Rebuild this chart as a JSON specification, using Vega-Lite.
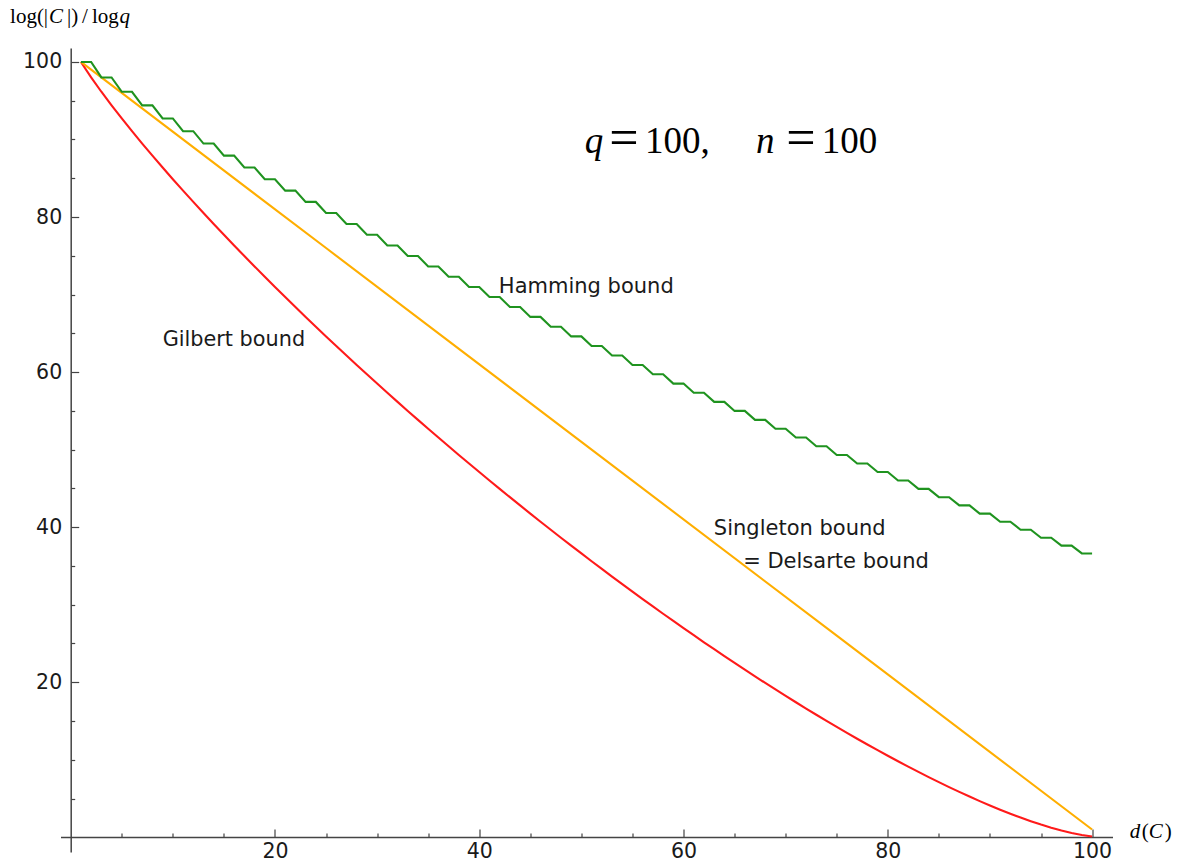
{
  "$schema": "https://vega.github.io/schema/vega-lite/v6.json",
  "width": 1052,
  "height": 804,
  "autosize": "none",
  "padding": {"left": 60.5, "top": 48, "right": 71.5, "bottom": 13},
  "background": "white",
  "config": {"view": {"stroke": null}, "axis": {"grid": false}},
  "datasets": {
    "singleton": [
      {"d": 1, "v": 100}, {"d": 25, "v": 76}, {"d": 50, "v": 51}, {"d": 75, "v": 26}, {"d": 100, "v": 1}
    ],
    "hamming": [
      {"d": 1, "v": 100}, {"d": 2, "v": 100}, {"d": 3, "v": 98.002}, {"d": 4, "v": 98.002},
      {"d": 5, "v": 96.157}, {"d": 6, "v": 96.157}, {"d": 7, "v": 94.402}, {"d": 8, "v": 94.402},
      {"d": 9, "v": 92.712}, {"d": 10, "v": 92.712}, {"d": 11, "v": 91.072}, {"d": 12, "v": 91.072},
      {"d": 13, "v": 89.475}, {"d": 14, "v": 89.475}, {"d": 15, "v": 87.913}, {"d": 16, "v": 87.913},
      {"d": 17, "v": 86.382}, {"d": 18, "v": 86.382}, {"d": 19, "v": 84.88}, {"d": 20, "v": 84.88},
      {"d": 21, "v": 83.402}, {"d": 22, "v": 83.402}, {"d": 23, "v": 81.948}, {"d": 24, "v": 81.948},
      {"d": 25, "v": 80.515}, {"d": 26, "v": 80.515}, {"d": 27, "v": 79.102}, {"d": 28, "v": 79.102},
      {"d": 29, "v": 77.708}, {"d": 30, "v": 77.708}, {"d": 31, "v": 76.331}, {"d": 32, "v": 76.331},
      {"d": 33, "v": 74.97}, {"d": 34, "v": 74.97}, {"d": 35, "v": 73.625}, {"d": 36, "v": 73.625},
      {"d": 37, "v": 72.295}, {"d": 38, "v": 72.295}, {"d": 39, "v": 70.98}, {"d": 40, "v": 70.98},
      {"d": 41, "v": 69.679}, {"d": 42, "v": 69.679}, {"d": 43, "v": 68.39}, {"d": 44, "v": 68.39},
      {"d": 45, "v": 67.115}, {"d": 46, "v": 67.115}, {"d": 47, "v": 65.852}, {"d": 48, "v": 65.852},
      {"d": 49, "v": 64.601}, {"d": 50, "v": 64.601}, {"d": 51, "v": 63.361}, {"d": 52, "v": 63.361},
      {"d": 53, "v": 62.134}, {"d": 54, "v": 62.134}, {"d": 55, "v": 60.917}, {"d": 56, "v": 60.917},
      {"d": 57, "v": 59.711}, {"d": 58, "v": 59.711}, {"d": 59, "v": 58.516}, {"d": 60, "v": 58.516},
      {"d": 61, "v": 57.331}, {"d": 62, "v": 57.331}, {"d": 63, "v": 56.156}, {"d": 64, "v": 56.156},
      {"d": 65, "v": 54.991}, {"d": 66, "v": 54.991}, {"d": 67, "v": 53.836}, {"d": 68, "v": 53.836},
      {"d": 69, "v": 52.691}, {"d": 70, "v": 52.691}, {"d": 71, "v": 51.556}, {"d": 72, "v": 51.556},
      {"d": 73, "v": 50.429}, {"d": 74, "v": 50.429}, {"d": 75, "v": 49.312}, {"d": 76, "v": 49.312},
      {"d": 77, "v": 48.205}, {"d": 78, "v": 48.205}, {"d": 79, "v": 47.106}, {"d": 80, "v": 47.106},
      {"d": 81, "v": 46.017}, {"d": 82, "v": 46.017}, {"d": 83, "v": 44.936}, {"d": 84, "v": 44.936},
      {"d": 85, "v": 43.865}, {"d": 86, "v": 43.865}, {"d": 87, "v": 42.802}, {"d": 88, "v": 42.802},
      {"d": 89, "v": 41.748}, {"d": 90, "v": 41.748}, {"d": 91, "v": 40.702}, {"d": 92, "v": 40.702},
      {"d": 93, "v": 39.666}, {"d": 94, "v": 39.666}, {"d": 95, "v": 38.637}, {"d": 96, "v": 38.637},
      {"d": 97, "v": 37.618}, {"d": 98, "v": 37.618}, {"d": 99, "v": 36.607}, {"d": 100, "v": 36.607}
    ],
    "gilbert": [
      {"d": 1, "v": 100}, {"d": 2, "v": 98.002}, {"d": 3, "v": 96.157}, {"d": 4, "v": 94.402},
      {"d": 5, "v": 92.712}, {"d": 6, "v": 91.072}, {"d": 7, "v": 89.475}, {"d": 8, "v": 87.913},
      {"d": 9, "v": 86.382}, {"d": 10, "v": 84.88}, {"d": 11, "v": 83.402}, {"d": 12, "v": 81.948},
      {"d": 13, "v": 80.515}, {"d": 14, "v": 79.102}, {"d": 15, "v": 77.708}, {"d": 16, "v": 76.331},
      {"d": 17, "v": 74.97}, {"d": 18, "v": 73.625}, {"d": 19, "v": 72.295}, {"d": 20, "v": 70.98},
      {"d": 21, "v": 69.679}, {"d": 22, "v": 68.39}, {"d": 23, "v": 67.115}, {"d": 24, "v": 65.852},
      {"d": 25, "v": 64.601}, {"d": 26, "v": 63.361}, {"d": 27, "v": 62.134}, {"d": 28, "v": 60.917},
      {"d": 29, "v": 59.711}, {"d": 30, "v": 58.516}, {"d": 31, "v": 57.331}, {"d": 32, "v": 56.156},
      {"d": 33, "v": 54.991}, {"d": 34, "v": 53.836}, {"d": 35, "v": 52.691}, {"d": 36, "v": 51.556},
      {"d": 37, "v": 50.429}, {"d": 38, "v": 49.312}, {"d": 39, "v": 48.205}, {"d": 40, "v": 47.106},
      {"d": 41, "v": 46.017}, {"d": 42, "v": 44.936}, {"d": 43, "v": 43.865}, {"d": 44, "v": 42.802},
      {"d": 45, "v": 41.748}, {"d": 46, "v": 40.702}, {"d": 47, "v": 39.666}, {"d": 48, "v": 38.637},
      {"d": 49, "v": 37.618}, {"d": 50, "v": 36.607}, {"d": 51, "v": 35.605}, {"d": 52, "v": 34.611},
      {"d": 53, "v": 33.626}, {"d": 54, "v": 32.65}, {"d": 55, "v": 31.682}, {"d": 56, "v": 30.723},
      {"d": 57, "v": 29.773}, {"d": 58, "v": 28.831}, {"d": 59, "v": 27.898}, {"d": 60, "v": 26.974},
      {"d": 61, "v": 26.059}, {"d": 62, "v": 25.152}, {"d": 63, "v": 24.255}, {"d": 64, "v": 23.367},
      {"d": 65, "v": 22.488}, {"d": 66, "v": 21.618}, {"d": 67, "v": 20.758}, {"d": 68, "v": 19.907},
      {"d": 69, "v": 19.066}, {"d": 70, "v": 18.235}, {"d": 71, "v": 17.414}, {"d": 72, "v": 16.603},
      {"d": 73, "v": 15.802}, {"d": 74, "v": 15.012}, {"d": 75, "v": 14.233}, {"d": 76, "v": 13.465},
      {"d": 77, "v": 12.708}, {"d": 78, "v": 11.963}, {"d": 79, "v": 11.23}, {"d": 80, "v": 10.509},
      {"d": 81, "v": 9.802}, {"d": 82, "v": 9.107}, {"d": 83, "v": 8.426}, {"d": 84, "v": 7.759},
      {"d": 85, "v": 7.108}, {"d": 86, "v": 6.472}, {"d": 87, "v": 5.852}, {"d": 88, "v": 5.25},
      {"d": 89, "v": 4.666}, {"d": 90, "v": 4.102}, {"d": 91, "v": 3.559}, {"d": 92, "v": 3.038},
      {"d": 93, "v": 2.543}, {"d": 94, "v": 2.074}, {"d": 95, "v": 1.636}, {"d": 96, "v": 1.232},
      {"d": 97, "v": 0.868}, {"d": 98, "v": 0.55}, {"d": 99, "v": 0.289}, {"d": 100, "v": 0.099}
    ]
  },
  "layer": [
    {
      "data": {"name": "gilbert"},
      "mark": {"type": "line", "color": "#ff1a1a", "strokeWidth": 2.1, "clip": false},
      "encoding": {
        "x": {
          "field": "d", "type": "quantitative",
          "scale": {"domain": [-1, 102], "nice": false, "zero": false},
          "axis": {
            "orient": "bottom", "offset": -15, "title": null,
            "values": [5, 10, 15, 20, 25, 30, 35, 40, 45, 50, 55, 60, 65, 70, 75, 80, 85, 90, 95, 100],
            "tickSize": {"condition": {"test": "datum.value % 20 === 0", "value": -8}, "value": -4},
            "labelExpr": "datum.value % 20 === 0 ? datum.label : ''",
            "domainColor": "#444", "domainWidth": 1.5, "tickColor": "#444", "tickWidth": 1.2,
            "labelFont": "DejaVu Sans", "labelFontSize": 20.5, "labelColor": "#1a1a1a",
            "labelPadding": 12, "labelFlush": false, "labelOverlap": false
          }
        },
        "y": {
          "field": "v", "type": "quantitative",
          "scale": {"domain": [-1.9, 101.8], "nice": false, "zero": false},
          "axis": {
            "orient": "left", "offset": -10.2, "title": null,
            "values": [5, 10, 15, 20, 25, 30, 35, 40, 45, 50, 55, 60, 65, 70, 75, 80, 85, 90, 95, 100],
            "tickSize": {"condition": {"test": "datum.value % 20 === 0", "value": -8}, "value": -4},
            "labelExpr": "datum.value % 20 === 0 ? datum.label : ''",
            "domainColor": "#444", "domainWidth": 1.5, "tickColor": "#444", "tickWidth": 1.2,
            "labelFont": "DejaVu Sans", "labelFontSize": 20.5, "labelColor": "#1a1a1a",
            "labelPadding": 17, "labelFlush": false, "labelOverlap": false
          }
        }
      }
    },
    {
      "data": {"name": "singleton"},
      "mark": {"type": "line", "color": "#ffae00", "strokeWidth": 2.1},
      "encoding": {
        "x": {"field": "d", "type": "quantitative"},
        "y": {"field": "v", "type": "quantitative"}
      }
    },
    {
      "data": {"name": "hamming"},
      "mark": {"type": "line", "color": "#1f931f", "strokeWidth": 2.1},
      "encoding": {
        "x": {"field": "d", "type": "quantitative"},
        "y": {"field": "v", "type": "quantitative"}
      }
    },
    {
      "data": {"values": [{"label": "Hamming bound"}]},
      "mark": {"type": "text", "align": "left", "baseline": "alphabetic", "font": "DejaVu Sans", "fontSize": 21, "color": "#1a1a1a"},
      "encoding": {"x": {"datum": 41.92}, "y": {"datum": 70.15}, "text": {"field": "label"}}
    },
    {
      "data": {"values": [{"label": "Gilbert bound"}]},
      "mark": {"type": "text", "align": "left", "baseline": "alphabetic", "font": "DejaVu Sans", "fontSize": 20.8, "color": "#1a1a1a"},
      "encoding": {"x": {"datum": 9.0}, "y": {"datum": 63.35}, "text": {"field": "label"}}
    },
    {
      "data": {"values": [{"label": "Singleton bound"}]},
      "mark": {"type": "text", "align": "left", "baseline": "alphabetic", "font": "DejaVu Sans", "fontSize": 21, "color": "#1a1a1a"},
      "encoding": {"x": {"datum": 62.97}, "y": {"datum": 39.05}, "text": {"field": "label"}}
    },
    {
      "data": {"values": [{"label": "= Delsarte bound"}]},
      "mark": {"type": "text", "align": "left", "baseline": "alphabetic", "font": "DejaVu Sans", "fontSize": 21, "color": "#1a1a1a"},
      "encoding": {"x": {"datum": 65.84}, "y": {"datum": 34.74}, "text": {"field": "label"}}
    },
    {
      "data": {"values": [{"label": "q"}]},
      "mark": {"type": "text", "align": "left", "baseline": "alphabetic", "font": "Liberation Serif", "fontStyle": "italic", "fontSize": 37, "color": "#000"},
      "encoding": {"x": {"datum": 50.34}, "y": {"datum": 88.22}, "text": {"field": "label"}}
    },
    {
      "data": {"values": [{"label": "="}]},
      "mark": {"type": "text", "align": "center", "baseline": "alphabetic", "font": "Liberation Serif", "fontSize": 52, "dy": 2, "color": "#000"},
      "encoding": {"x": {"datum": 54.16}, "y": {"datum": 88.22}, "text": {"field": "label"}}
    },
    {
      "data": {"values": [{"label": "100,"}]},
      "mark": {"type": "text", "align": "left", "baseline": "alphabetic", "font": "Liberation Serif", "fontSize": 37, "color": "#000"},
      "encoding": {"x": {"datum": 56.22}, "y": {"datum": 88.22}, "text": {"field": "label"}}
    },
    {
      "data": {"values": [{"label": "n"}]},
      "mark": {"type": "text", "align": "left", "baseline": "alphabetic", "font": "Liberation Serif", "fontStyle": "italic", "fontSize": 37, "color": "#000"},
      "encoding": {"x": {"datum": 67.1}, "y": {"datum": 88.22}, "text": {"field": "label"}}
    },
    {
      "data": {"values": [{"label": "="}]},
      "mark": {"type": "text", "align": "center", "baseline": "alphabetic", "font": "Liberation Serif", "fontSize": 52, "dy": 2, "color": "#000"},
      "encoding": {"x": {"datum": 71.49}, "y": {"datum": 88.22}, "text": {"field": "label"}}
    },
    {
      "data": {"values": [{"label": "100"}]},
      "mark": {"type": "text", "align": "left", "baseline": "alphabetic", "font": "Liberation Serif", "fontSize": 37, "color": "#000"},
      "encoding": {"x": {"datum": 73.54}, "y": {"datum": 88.22}, "text": {"field": "label"}}
    },
    {
      "data": {"values": [{"label": "log(|"}]},
      "mark": {"type": "text", "align": "left", "baseline": "alphabetic", "font": "Liberation Serif", "fontSize": 21, "color": "#000"},
      "encoding": {"x": {"datum": -5.94}, "y": {"datum": 104.99}, "text": {"field": "label"}}
    },
    {
      "data": {"values": [{"label": "C"}]},
      "mark": {"type": "text", "align": "left", "baseline": "alphabetic", "font": "Liberation Serif", "fontStyle": "italic", "fontSize": 21, "color": "#000"},
      "encoding": {"x": {"datum": -2.12}, "y": {"datum": 104.99}, "text": {"field": "label"}}
    },
    {
      "data": {"values": [{"label": "|)"}]},
      "mark": {"type": "text", "align": "left", "baseline": "alphabetic", "font": "Liberation Serif", "fontSize": 21, "color": "#000"},
      "encoding": {"x": {"datum": -0.36}, "y": {"datum": 104.99}, "text": {"field": "label"}}
    },
    {
      "data": {"values": [{"label": "/"}]},
      "mark": {"type": "text", "align": "left", "baseline": "alphabetic", "font": "Liberation Serif", "fontSize": 21, "color": "#000"},
      "encoding": {"x": {"datum": 1.1}, "y": {"datum": 104.99}, "text": {"field": "label"}}
    },
    {
      "data": {"values": [{"label": "log"}]},
      "mark": {"type": "text", "align": "left", "baseline": "alphabetic", "font": "Liberation Serif", "fontSize": 21, "color": "#000"},
      "encoding": {"x": {"datum": 2.08}, "y": {"datum": 104.99}, "text": {"field": "label"}}
    },
    {
      "data": {"values": [{"label": "q"}]},
      "mark": {"type": "text", "align": "left", "baseline": "alphabetic", "font": "Liberation Serif", "fontStyle": "italic", "fontSize": 21, "color": "#000"},
      "encoding": {"x": {"datum": 4.78}, "y": {"datum": 104.99}, "text": {"field": "label"}}
    },
    {
      "data": {"values": [{"label": "d"}]},
      "mark": {"type": "text", "align": "left", "baseline": "alphabetic", "font": "Liberation Serif", "fontStyle": "italic", "fontSize": 21, "color": "#000"},
      "encoding": {"x": {"datum": 103.69}, "y": {"datum": -0.14}, "text": {"field": "label"}}
    },
    {
      "data": {"values": [{"label": "("}]},
      "mark": {"type": "text", "align": "left", "baseline": "alphabetic", "font": "Liberation Serif", "fontSize": 21, "color": "#000"},
      "encoding": {"x": {"datum": 104.86}, "y": {"datum": -0.14}, "text": {"field": "label"}}
    },
    {
      "data": {"values": [{"label": "C"}]},
      "mark": {"type": "text", "align": "left", "baseline": "alphabetic", "font": "Liberation Serif", "fontStyle": "italic", "fontSize": 21, "color": "#000"},
      "encoding": {"x": {"datum": 105.55}, "y": {"datum": -0.14}, "text": {"field": "label"}}
    },
    {
      "data": {"values": [{"label": ")"}]},
      "mark": {"type": "text", "align": "left", "baseline": "alphabetic", "font": "Liberation Serif", "fontSize": 21, "color": "#000"},
      "encoding": {"x": {"datum": 107.12}, "y": {"datum": -0.14}, "text": {"field": "label"}}
    }
  ]
}
